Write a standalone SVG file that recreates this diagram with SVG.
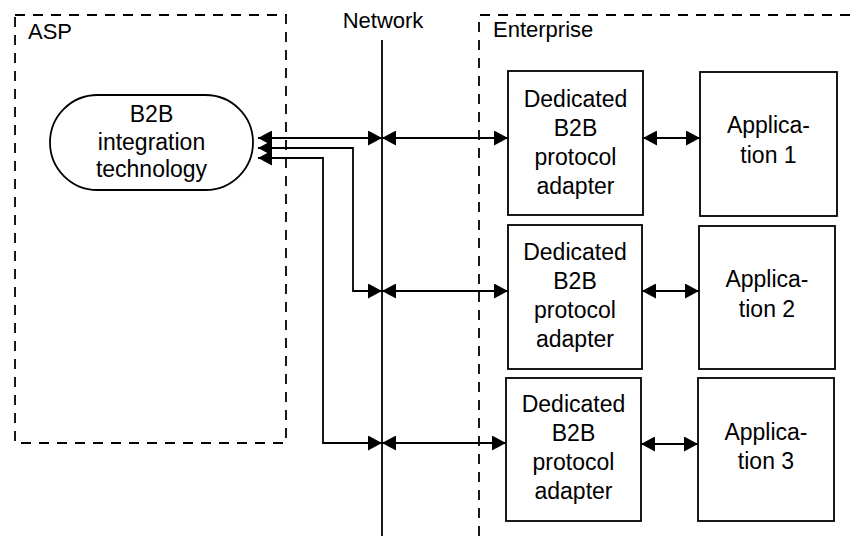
<svg xmlns="http://www.w3.org/2000/svg" width="857" height="536" viewBox="0 0 857 536">
<defs>
<marker id="ah" markerUnits="userSpaceOnUse" markerWidth="14" markerHeight="15" refX="14" refY="7.5" orient="auto-start-reverse">
<path d="M0,0 L14,7.5 L0,15 z" fill="#000"/>
</marker>
</defs>
<style>
.t{font-family:"Liberation Sans",Arial,sans-serif;font-size:23px;fill:#000;text-anchor:middle}
.lbl{font-family:"Liberation Sans",Arial,sans-serif;font-size:22px;fill:#000}
.box{fill:#fff;stroke:#000;stroke-width:1.8}
.dash{fill:none;stroke:#000;stroke-width:1.8;stroke-dasharray:10 8}
.c{fill:none;stroke:#000;stroke-width:1.8;marker-start:url(#ah);marker-end:url(#ah)}
</style>
<rect width="857" height="536" fill="#fff"/>
<g id="asp">
<rect class="dash" x="15" y="15" width="271" height="428"/>
<text class="lbl" x="28" y="39">ASP</text>
</g>
<g id="enterprise">
<path class="dash" d="M479,536 L479,15 L857,15"/>
<text class="lbl" x="493" y="37">Enterprise</text>
</g>
<g id="network">
<line x1="382" y1="40" x2="382" y2="536" stroke="#000" stroke-width="1.8"/>
<text class="lbl" x="383" y="28" text-anchor="middle">Network</text>
</g>
<g id="b2b">
<rect class="box" x="50" y="95" width="203" height="95" rx="47.5" ry="47.5"/>
<text class="t" x="151.5" y="122">B2B</text>
<text class="t" x="151.5" y="149.5">integration</text>
<text class="t" x="151.5" y="177">technology</text>
</g>
<g id="adapter1">
<rect class="box" x="508" y="71" width="135" height="144"/>
<text class="t" x="575.5" y="107">Dedicated</text>
<text class="t" x="575.5" y="136">B2B</text>
<text class="t" x="575.5" y="165">protocol</text>
<text class="t" x="575.5" y="194">adapter</text>
</g>
<g id="adapter2">
<rect class="box" x="508" y="225" width="134" height="144"/>
<text class="t" x="575" y="260">Dedicated</text>
<text class="t" x="575" y="289">B2B</text>
<text class="t" x="575" y="318">protocol</text>
<text class="t" x="575" y="347">adapter</text>
</g>
<g id="adapter3">
<rect class="box" x="506" y="378" width="135" height="143"/>
<text class="t" x="573.5" y="412">Dedicated</text>
<text class="t" x="573.5" y="441">B2B</text>
<text class="t" x="573.5" y="470">protocol</text>
<text class="t" x="573.5" y="499">adapter</text>
</g>
<g id="app1">
<rect class="box" x="700" y="72" width="137" height="144"/>
<text class="t" x="768.5" y="133">Applica-</text>
<text class="t" x="768.5" y="163">tion 1</text>
</g>
<g id="app2">
<rect class="box" x="699" y="226" width="136" height="143"/>
<text class="t" x="767" y="287">Applica-</text>
<text class="t" x="767" y="317">tion 2</text>
</g>
<g id="app3">
<rect class="box" x="698" y="378" width="136" height="143"/>
<text class="t" x="766" y="440">Applica-</text>
<text class="t" x="766" y="469">tion 3</text>
</g>
<g id="connectors">
<path class="c" d="M258,138 L382,138"/>
<path class="c" d="M258,148 L353,148 L353,291 L382,291"/>
<path class="c" d="M258,158 L323,158 L323,443 L382,443"/>
<path class="c" d="M382,138 L508,138"/>
<path class="c" d="M382,291 L508,291"/>
<path class="c" d="M382,443 L506,443"/>
<path class="c" d="M643,138 L700,138"/>
<path class="c" d="M642,291 L699,291"/>
<path class="c" d="M641,444 L698,444"/>
</g>
</svg>
